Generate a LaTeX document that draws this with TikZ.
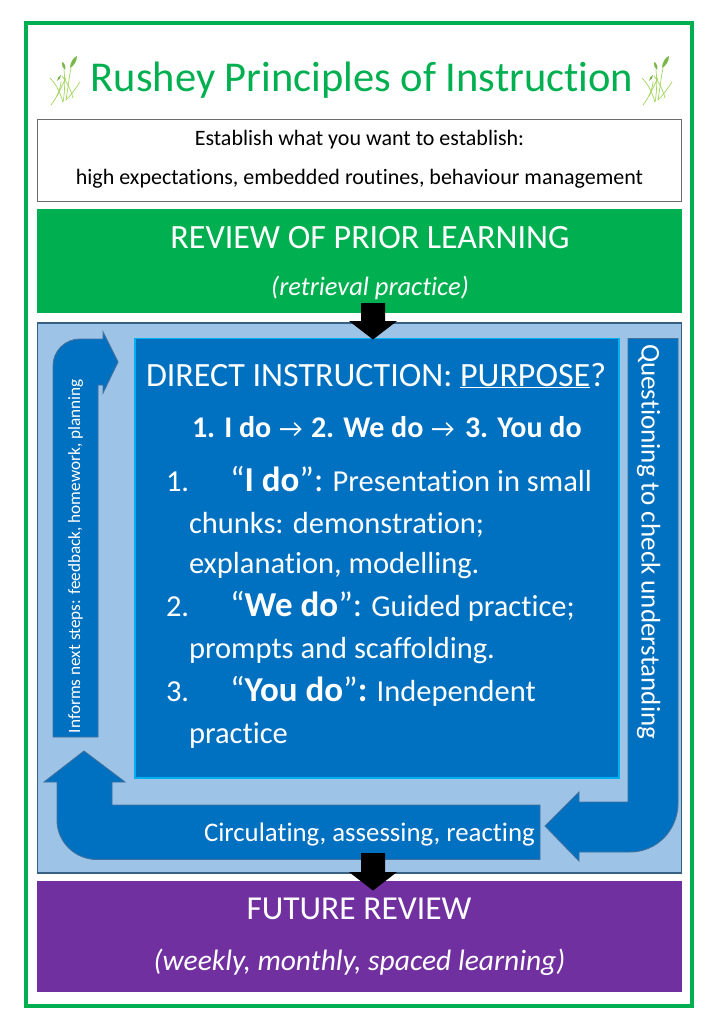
\documentclass[tikz,border=0pt]{standalone}
\usepackage{fontspec}
\setmainfont{Carlito}[Ligatures=NoCommon]
\definecolor{rgreen}{HTML}{00B050}
\definecolor{rblue}{HTML}{0070C0}
\definecolor{rlight}{HTML}{9DC3E6}
\definecolor{redge}{HTML}{41719C}
\definecolor{rcyan}{HTML}{00B0F0}
\definecolor{rpurple}{HTML}{7030A0}
\definecolor{grassg}{HTML}{A4D65E}
\definecolor{grassd}{HTML}{7AB648}
\newcommand{\grasstuft}{%
  \draw[grassg,line width=0.7pt,line cap=round] (51,105) .. controls (56,98) and (60,92) .. (61,82);
  \draw[grassg,line width=0.7pt,line cap=round] (50,78) .. controls (56,84) and (60,92) .. (63,102);
  \draw[grassg,line width=0.7pt,line cap=round] (63,102) .. controls (65,92) and (65,80) .. (64,70);
  \draw[grassg,line width=0.7pt,line cap=round] (66,100) .. controls (68,88) and (69,78) .. (71,68);
  \draw[grassg,line width=0.7pt,line cap=round] (66,100) .. controls (72,94) and (76,88) .. (80,82);
  \draw[grassg,line width=0.7pt,line cap=round] (73,98) .. controls (71,90) and (68,84) .. (62,76);
  \draw[grassg,line width=0.7pt,line cap=round] (57,96) .. controls (60,90) and (63,84) .. (66,78);
  \fill[grassd] (70,68) .. controls (70,62) and (74,57) .. (77,56) .. controls (77,61) and (74,66) .. (70,68) -- cycle;
  \fill[grassd] (62,62) .. controls (65,63) and (66,67) .. (65,70) .. controls (63,68) and (61,65) .. (62,62) -- cycle;
  \fill[grassd] (57,81) .. controls (57,78) and (59,76) .. (61,75) .. controls (61,78) and (59,80) .. (57,81) -- cycle;
}
\newcommand{\bodyfont}{\fontsize{30.5}{36}\selectfont}
\newcommand{\bodybold}[1]{\textbf{\fontsize{35}{40}\selectfont #1}}
\newcommand{\bigq}[1]{{\fontsize{35}{40}\selectfont #1}}
\tikzset{
  lab/.style={anchor=base west,inner sep=0pt,outer sep=0pt,text=white},
  clab/.style={anchor=base,inner sep=0pt,outer sep=0pt},
  flow/.style={fill=rblue,draw=redge,line width=0.9pt,line join=miter},
  drop/.style={fill=black,draw=none}
}
\begin{document}
\begin{tikzpicture}[x=1pt,y=-1pt]
\useasboundingbox (0,0) rectangle (724,1024);
\fill[white] (0,0) rectangle (724,1024);
\draw[rgreen,line width=4pt] (26,23) rectangle (692,1006);
% title
\grasstuft
\begin{scope}[shift={(592,0)}]\grasstuft\end{scope}
\node[clab,text=rgreen,font=\fontsize{42.5}{50}\selectfont] (title) at (362,92) {Rushey Principles of Instruction};
% establish box
\draw[draw=gray!85!black,fill=white,line width=0.8pt] (37.5,119.5) rectangle (681,201);
\node[clab,font=\fontsize{22}{26}\selectfont] (est1) at (359.5,146) {Establish what you want to establish:};
\node[clab,font=\fontsize{22}{26}\selectfont] (est2) at (359.5,184.5) {high expectations, embedded routines, behaviour management};
% review
\fill[rgreen] (37,209) rectangle (682,313);
\node[clab,text=white,font=\fontsize{34}{40}\selectfont] (rev1) at (370,248.5) {REVIEW OF PRIOR LEARNING};
\node[clab,text=white,font=\itshape\fontsize{26.5}{32}\selectfont] (rev2) at (370,295) {(retrieval practice)};
% middle panel
\draw[fill=rlight,draw=redge!85!black,line width=1.2pt] (37.5,323) rectangle (681.5,873);
% main box
\draw[fill=rblue,draw=rcyan,line width=1.6pt] (135,338.5) rectangle (619,778);
% purple
\fill[rpurple] (37,881) rectangle (682,992);
% left arrow
\draw[flow] (53,737) -- (53,366) .. controls (53,351) and (65,339) .. (80,339) -- (103,339) -- (103,332) -- (118,362) -- (103,393) -- (103,385) -- (98,385) -- (98,737) -- cycle;
% bottom arrow
\draw[flow] (540,805) -- (112,805) -- (112,782) -- (125,782) -- (84,751) -- (44,782) -- (57,782) -- (57,820) .. controls (57,842) and (75,859.5) .. (97,859.5) -- (540,859.5) -- cycle;
% right arrow
\draw[flow] (545,826) -- (579,792) -- (579,802) -- (628,802) -- (628,338.5) -- (678,338.5) -- (678,803) .. controls (678,830) and (657,852) .. (630,852) -- (579,852) -- (579,861) -- cycle;
% black arrows
\fill[drop] (361,303) -- (385,303) -- (385,321) -- (397,321) -- (373,339.5) -- (349,321) -- (361,321) -- cycle;
\fill[drop] (361,853) -- (385,853) -- (385,872) -- (397,872) -- (373,890.5) -- (349,872) -- (361,872) -- cycle;
% main texts
\node[lab,font=\fontsize{34}{40}\selectfont] (di) at (146,386) {DIRECT INSTRUCTION: \underline{PURPOSE}?};
\node[lab,font=\bfseries\fontsize{30}{36}\selectfont] (s1) at (192,437.5) {1. I do};
\node[lab,font=\fontsize{26}{30}\selectfont] (a1) at (279,437.5) {→};
\node[lab,font=\bfseries\fontsize{30}{36}\selectfont] (s2) at (311,437.5) {2. We do};
\node[lab,font=\fontsize{26}{30}\selectfont] (a2) at (431,437.5) {→};
\node[lab,font=\bfseries\fontsize{30}{36}\selectfont] (s3) at (465,437.5) {3. You do};
\node[lab,font=\bodyfont] (n1) at (166,491) {1.};
\node[lab,font=\bodyfont] (t1) at (230,491) {\bigq{“}\bodybold{I do}\bigq{”:} Presentation in small};
\node[lab,font=\bodyfont] (t1b) at (189,533) {chunks: demonstration;};
\node[lab,font=\bodyfont] (t1c) at (189,573.5) {explanation, modelling.};
\node[lab,font=\bodyfont] (n2) at (166,616) {2.};
\node[lab,font=\bodyfont] (t2) at (230,616) {\bigq{“}\bodybold{We do}\bigq{”:} Guided practice;};
\node[lab,font=\bodyfont] (t2b) at (189,658.5) {prompts and scaffolding.};
\node[lab,font=\bodyfont] (n3) at (166,701) {3.};
\node[lab,font=\bodyfont] (t3) at (230,701) {\bigq{“}\bodybold{You do}\bigq{”}\bodybold{:} Independent};
\node[lab,font=\bodyfont] (t3b) at (189,743) {practice};
% arrow labels
\node[lab,rotate=90,font=\fontsize{17.2}{21}\selectfont] (inf) at (80,733) {Informs next steps: feedback, homework, planning};
\node[lab,rotate=-90,font=\fontsize{27}{32}\selectfont] (q) at (641.5,344) {Questioning to check understanding};
\node[lab,font=\fontsize{26.8}{31}\selectfont] (circ) at (204,841.5) {Circulating, assessing, reacting};
% future
\node[clab,text=white,font=\fontsize{33.5}{40}\selectfont] (fut1) at (359,919) {FUTURE REVIEW};
\node[clab,text=white,font=\itshape\fontsize{29.5}{35}\selectfont] (fut2) at (359.5,970) {(weekly, monthly, spaced learning)};
\end{tikzpicture}
\end{document}
